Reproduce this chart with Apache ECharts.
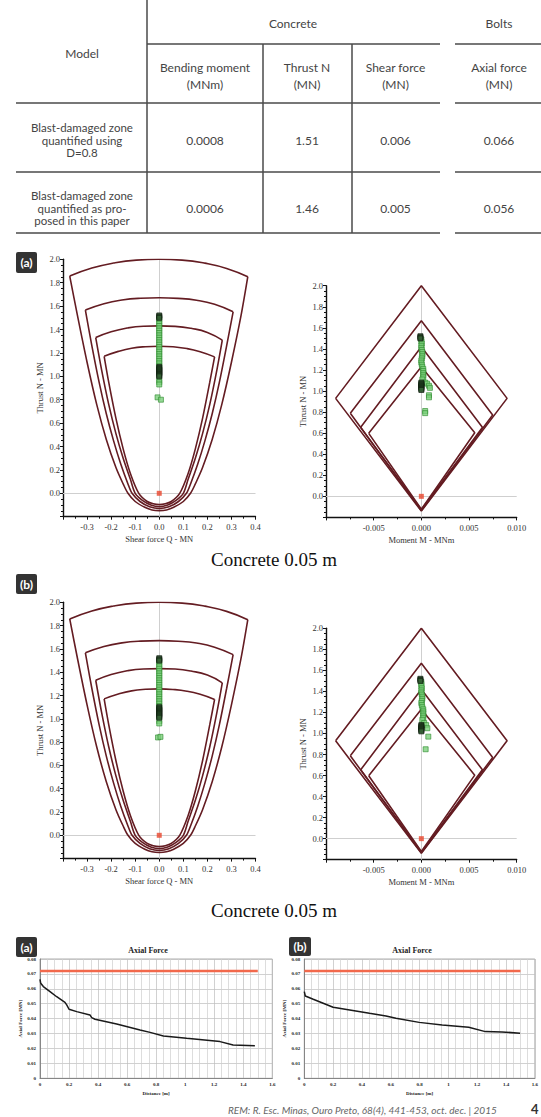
<!DOCTYPE html>
<html><head><meta charset="utf-8">
<script src="https://cdn.jsdelivr.net/npm/echarts@6/dist/echarts.min.js"></script>
<style>html,body{margin:0;padding:0;background:#fff;}#c{width:541px;height:1117px;}</style>
</head><body><div id="c"></div>
<script>
// ---------- TABLE DATA ----------
const tableGroups = ['Concrete', 'Bolts'];
const tableColumns = ['Bending moment\n(MNm)', 'Thrust N\n(MN)', 'Shear force\n(MN)', 'Axial force\n(MN)'];
const tableModels = ['Blast-damaged zone\nquantified using\nD=0.8', 'Blast-damaged zone\nquantified as pro-\nposed in this paper'];
const tableRow1 = ['0.0008', '1.51', '0.006', '0.066'];
const tableRow2 = ['0.0006', '1.46', '0.005', '0.056'];

// ---------- SHEAR (Q-N) ENVELOPES, factor of safety levels ----------
const levels = ['1', '1.2', '1.4', '1.6'];
const shearArc1 = [[-0.372,1.857],[-0.28,1.925],[-0.19,1.968],[-0.095,1.993],[0,2.0],[0.095,1.993],[0.19,1.967],[0.28,1.922],[0.368,1.851]];
const shearArc12 = [[-0.307,1.566],[-0.23,1.62],[-0.155,1.652],[-0.078,1.667],[0,1.671],[0.078,1.666],[0.155,1.65],[0.23,1.615],[0.307,1.551]];
const shearArc14 = [[-0.264,1.331],[-0.2,1.38],[-0.132,1.413],[-0.066,1.428],[0,1.431],[0.066,1.427],[0.132,1.41],[0.2,1.375],[0.262,1.309]];
const shearArc16 = [[-0.229,1.171],[-0.17,1.213],[-0.115,1.24],[-0.057,1.253],[0,1.257],[0.057,1.252],[0.115,1.237],[0.17,1.21],[0.23,1.166]];
const shearU1 = [[-0.372,1.857],[-0.34,1.52],[-0.30,1.12],[-0.26,0.76],[-0.22,0.46],[-0.18,0.22],[-0.15,0.08],[-0.13,0.0],[-0.10,-0.07],[-0.06,-0.12],[-0.03,-0.142],[0,-0.148],[0.03,-0.142],[0.06,-0.12],[0.10,-0.07],[0.13,0.0],[0.15,0.08],[0.18,0.22],[0.22,0.46],[0.26,0.76],[0.30,1.12],[0.34,1.52],[0.368,1.851]];
const shearU12 = [[-0.307,1.566],[-0.28,1.26],[-0.25,0.95],[-0.22,0.68],[-0.19,0.45],[-0.16,0.25],[-0.13,0.08],[-0.113,0.0],[-0.08,-0.07],[-0.04,-0.115],[0,-0.13],[0.04,-0.115],[0.08,-0.07],[0.113,0.0],[0.13,0.08],[0.16,0.25],[0.19,0.45],[0.22,0.68],[0.25,0.95],[0.28,1.26],[0.307,1.551]];
const shearU14 = [[-0.264,1.331],[-0.24,1.06],[-0.21,0.76],[-0.18,0.51],[-0.15,0.30],[-0.12,0.12],[-0.10,0.0],[-0.07,-0.06],[-0.035,-0.10],[0,-0.115],[0.035,-0.10],[0.07,-0.06],[0.10,0.0],[0.12,0.12],[0.15,0.30],[0.18,0.51],[0.21,0.76],[0.24,1.06],[0.262,1.309]];
const shearU16 = [[-0.229,1.171],[-0.21,0.95],[-0.18,0.64],[-0.15,0.38],[-0.12,0.17],[-0.085,0.0],[-0.05,-0.07],[-0.025,-0.09],[0,-0.097],[0.025,-0.09],[0.05,-0.07],[0.085,0.0],[0.12,0.17],[0.15,0.38],[0.18,0.64],[0.21,0.95],[0.23,1.166]];
const shearLabelPos = [[0.165,2.023],[0.121,1.694],[0.1,1.466],[0.082,1.286]];

// ---------- MOMENT (M-N) ENVELOPES ----------
const momentDiamond1 = [[-0.00899,0.93],[0,2.0],[0.00899,0.93],[0,-0.14],[-0.00899,0.93]];
const momentDiamond12 = [[-0.00745,0.788],[0,1.668],[0.00748,0.772],[0,-0.134],[-0.00745,0.788]];
const momentDiamond14 = [[-0.00636,0.655],[0,1.421],[0.0064,0.655],[0,-0.128],[-0.00636,0.655]];
const momentDiamond16 = [[-0.00552,0.598],[0,1.231],[0.0056,0.604],[0,-0.122],[-0.00552,0.598]];
const momentLabelPos = [[0.00388,1.532],[0.003,1.288],[0.0023,1.111],[0.00196,0.978]];

// ---------- LINER RESULTS (points) ----------
const shearPtsA = [[0,1.49],[0,1.47],[0,1.45],[0,1.43],[0,1.41],[0,1.39],[0,1.37],[0,1.35],[0,1.33],[0,1.31],[0,1.29],[0,1.27],[0,1.25],[0,1.23],[0,1.21],[0,1.19],[0,1.17],[0,1.15],[0,1.13],[0,1.11],[0,1.09],[0,0.97],[0,0.95],[0,0.93],[-0.007,0.82],[0.007,0.80]];
const shearDarkA = [[0,1.52],[0,1.51],[0,1.50],[0,1.08],[0,1.07],[0,1.06],[0,1.05],[0,1.04],[0,1.03],[0,1.02],[0,1.01],[0,1.0]];
const momentPtsA = [[0,1.49],[0,1.47],[0.00005,1.45],[0,1.43],[0,1.41],[0.00005,1.39],[0.0001,1.37],[0.0001,1.35],[0.0001,1.33],[0.00005,1.31],[0,1.29],[0,1.27],[0.00005,1.25],[0.0001,1.23],[0.0002,1.21],[0.0002,1.19],[0.0002,1.17],[0.0002,1.15],[0.0002,1.13],[0.0001,1.11],[0.0004,1.08],[0.0006,1.07],[0.0008,1.05],[0.0009,1.03],[0.0008,0.96],[0.0008,0.94],[0.0004,0.81],[0.0004,0.79]];
const momentDarkA = [[-0.0001,1.52],[-0.0001,1.51],[-0.0001,1.50],[0,1.08],[0,1.07],[0,1.06],[0,1.05],[0,1.04],[0,1.03],[0,1.02],[0,1.01]];
const shearPtsB = [[0,1.49],[0,1.47],[0,1.45],[0,1.43],[0,1.41],[0,1.39],[0,1.37],[0,1.35],[0,1.33],[0,1.31],[0,1.29],[0,1.27],[0,1.25],[0,1.23],[0,1.21],[0,1.19],[0,1.17],[0,1.15],[0,1.13],[0,1.11],[0,0.98],[0,0.96],[-0.005,0.84],[0.005,0.845]];
const shearDarkB = [[0,1.52],[0,1.51],[0,1.50],[0,1.10],[0,1.09],[0,1.08],[0,1.07],[0,1.06],[0,1.05],[0,1.04],[0,1.03],[0,1.02],[0,1.01]];
const momentPtsB = [[0,1.49],[0,1.47],[0,1.45],[0.00005,1.43],[0,1.41],[0,1.39],[0.00005,1.37],[0.0001,1.35],[0.0001,1.33],[0.00005,1.31],[0,1.29],[0.00005,1.27],[0.0001,1.25],[0.0002,1.23],[0.0002,1.21],[0.0002,1.19],[0.0002,1.17],[0.0002,1.15],[0.0001,1.13],[0.0003,1.10],[0.0005,1.08],[0.00063,1.05],[0.00073,0.97],[0.00045,0.85]];
const momentDarkB = [[-0.0001,1.52],[-0.0001,1.51],[-0.0001,1.50],[0,1.08],[0,1.07],[0,1.06],[0,1.05],[0,1.04],[0,1.03],[0,1.02]];
const originPt = [[0,0]];

// ---------- BOLT AXIAL FORCE ----------
const axialA = [[0,0.0664],[0.005,0.0637],[0.023,0.0615],[0.069,0.0581],[0.115,0.0547],[0.172,0.0509],[0.184,0.0492],[0.2,0.0463],[0.253,0.0447],[0.344,0.0425],[0.356,0.0407],[0.379,0.0396],[0.528,0.0364],[0.689,0.0324],[0.758,0.0308],[0.85,0.0284],[1.01,0.0268],[1.24,0.0246],[1.33,0.0223],[1.48,0.0219]];
const axialB = [[0,0.0581],[0.007,0.0552],[0.062,0.053],[0.131,0.0503],[0.2,0.0476],[0.315,0.0458],[0.452,0.0436],[0.567,0.0418],[0.636,0.0402],[0.797,0.0375],[0.957,0.0358],[1.141,0.0342],[1.256,0.0313],[1.371,0.0311],[1.497,0.0302]];
const tensileCapacity = 0.072;
const tensileExtent = [0, 1.5];
const tensileText = 'Tensile capacity 0.072 MN';

// ---------- STYLE ----------
const SERIF = '"Liberation Serif","DejaVu Serif",serif';
const SANS = 'Lato,"Open Sans",sans-serif';
const CURVE = '#641c22';
const TBL = '#4a4a4a';

const chart = echarts.init(document.getElementById('c'), null, {renderer: 'svg'});

const grids = [
  {left: 63, top: 259.3, width: 192.5, height: 257.4},
  {left: 326, top: 285.7, width: 190.7, height: 231.7},
  {left: 63, top: 602.3, width: 192.5, height: 256.3},
  {left: 326, top: 628.3, width: 190.7, height: 231.4},
  {left: 40, top: 959, width: 232.3, height: 119.3, show: true, borderColor: '#999', borderWidth: 0.8},
  {left: 304.3, top: 959, width: 232, height: 119.3, show: true, borderColor: '#999', borderWidth: 0.8}
];

function fmt(v, d) { if (Math.abs(v) < 1e-9) v = 0; return v.toFixed(d); }
const axLine = {onZero: false, lineStyle: {color: '#111', width: 1.4}};
const tick = {length: 3, lineStyle: {color: '#111', width: 1}};
const nameStyle = {fontFamily: SERIF, fontSize: 8.5, color: '#333'};

function yThrust(gi) {
  return {gridIndex: gi, type: 'value', min: -0.2, max: 2.0, interval: 0.2,
    axisLine: axLine, axisTick: tick, minorTick: {show: true, splitNumber: 4, length: 2, lineStyle: {color: '#111'}},
    splitLine: {show: false},
    axisLabel: {fontFamily: SERIF, fontSize: 8.5, color: '#333', margin: 3, formatter: v => v < -0.05 ? '' : fmt(v, 1)},
    name: 'Thrust N - MN', nameLocation: 'middle', nameGap: 19, nameTextStyle: nameStyle};
}
function xShear(gi) {
  return {gridIndex: gi, type: 'value', min: -0.4, max: 0.4, interval: 0.1,
    axisLine: axLine, axisTick: tick, minorTick: {show: true, splitNumber: 2, length: 2, lineStyle: {color: '#111'}},
    splitLine: {show: false},
    axisLabel: {fontFamily: SERIF, fontSize: 8.5, color: '#333', margin: 6, formatter: v => v < -0.35 ? '' : fmt(v, 1)},
    name: 'Shear force Q - MN', nameLocation: 'middle', nameGap: 18, nameTextStyle: nameStyle};
}
function xMoment(gi) {
  return {gridIndex: gi, type: 'value', min: -0.01, max: 0.01, interval: 0.005,
    axisLine: axLine, axisTick: tick, minorTick: {show: true, splitNumber: 2, length: 2, lineStyle: {color: '#111'}},
    splitLine: {show: false},
    axisLabel: {fontFamily: SERIF, fontSize: 8.5, color: '#333', margin: 6, formatter: v => v < -0.0075 ? '' : fmt(v, 3)},
    name: 'Moment M - MNm', nameLocation: 'middle', nameGap: 18, nameTextStyle: nameStyle};
}
const tinyLbl = {fontFamily: SERIF, fontSize: 5, color: '#222', fontWeight: 'bold'};
function xDist(gi) {
  return {gridIndex: gi, type: 'value', min: 0, max: 1.6, interval: 0.2,
    axisLine: {onZero: false, lineStyle: {color: '#777', width: 0.8}}, axisTick: {show: false},
    splitLine: {show: true, lineStyle: {color: '#bdbdbd', width: 0.7}},
    minorTick: {show: false, splitNumber: 4}, minorSplitLine: {show: true, lineStyle: {color: '#cfcfcf', width: 0.7}},
    axisLabel: Object.assign({margin: 4, formatter: v => (Math.abs(v - Math.round(v)) < 1e-9 ? String(Math.round(v)) : fmt(v, 1))}, tinyLbl),
    name: 'Distance [m]', nameLocation: 'middle', nameGap: 13, nameTextStyle: tinyLbl};
}
function yAxial(gi) {
  return {gridIndex: gi, type: 'value', min: 0, max: 0.08, interval: 0.01,
    axisLine: {onZero: false, lineStyle: {color: '#777', width: 0.8}}, axisTick: {show: false},
    splitLine: {show: true, lineStyle: {color: '#bdbdbd', width: 0.7}},
    axisLabel: Object.assign({margin: 4, formatter: v => (v < 1e-9 ? '0' : fmt(v, 2))}, tinyLbl),
    name: 'Axial Force [MN]', nameLocation: 'middle', nameGap: 17, nameTextStyle: tinyLbl};
}

const shearArcs = [shearArc1, shearArc12, shearArc14, shearArc16];
const shearUs = [shearU1, shearU12, shearU14, shearU16];
const diamonds = [momentDiamond1, momentDiamond12, momentDiamond14, momentDiamond16];

function curveLine(i, data, smooth) {
  return {type: 'line', xAxisIndex: i, yAxisIndex: i, data: data, smooth: smooth, symbol: 'none', silent: true,
    lineStyle: {color: CURVE, width: 1.6}, z: 3};
}
function labelSeries(i, pos) {
  return {type: 'scatter', xAxisIndex: i, yAxisIndex: i, symbolSize: 1, itemStyle: {opacity: 0}, silent: true,
    data: pos.map((p, k) => ({value: p, name: levels[k]})),
    label: {show: true, position: 'inside', formatter: '{b}', fontFamily: SERIF, fontSize: 8.5, color: '#7a2630'}, z: 4};
}
function pointSeries(i, pts, dark) {
  return {type: 'scatter', xAxisIndex: i, yAxisIndex: i, data: pts, symbol: 'rect', symbolSize: 5, silent: true,
    itemStyle: dark ? {color: '#335f33', borderColor: '#0d1a0d', borderWidth: 0.9} : {color: '#7ccf7c', borderColor: '#2e8a2e', borderWidth: 0.8}, z: dark ? 6 : 5};
}
function originSeries(i) {
  return {type: 'scatter', xAxisIndex: i, yAxisIndex: i, data: originPt, symbol: 'rect', symbolSize: 5, silent: true,
    itemStyle: {color: '#e8452c'}, z: 7,
    markLine: {silent: true, symbol: ['none', 'none'], label: {show: false}, lineStyle: {color: '#cfcfcf', width: 1, type: 'solid'},
      data: [{xAxis: 0}, {yAxis: 0}], z: 1}};
}

const series = [];
[0, 2].forEach(i => {
  shearArcs.forEach((a, k) => { series.push(curveLine(i, a, true)); series.push(curveLine(i, shearUs[k], 0.3)); });
  series.push(labelSeries(i, shearLabelPos));
  series.push(originSeries(i));
});
[1, 3].forEach(i => {
  diamonds.forEach(d => series.push(curveLine(i, d, false)));
  series.push(labelSeries(i, momentLabelPos));
  series.push(originSeries(i));
});
series.push(pointSeries(0, shearPtsA, false), pointSeries(0, shearDarkA, true));
series.push(pointSeries(1, momentPtsA, false), pointSeries(1, momentDarkA, true));
series.push(pointSeries(2, shearPtsB, false), pointSeries(2, shearDarkB, true));
series.push(pointSeries(3, momentPtsB, false), pointSeries(3, momentDarkB, true));

[[4, axialA], [5, axialB]].forEach(([i, d]) => {
  series.push({type: 'line', xAxisIndex: i, yAxisIndex: i, symbol: 'none', silent: true,
    data: tensileExtent.map(x => [x, tensileCapacity]), lineStyle: {color: '#f2694c', width: 2.6}, z: 3});
  series.push({type: 'line', xAxisIndex: i, yAxisIndex: i, symbol: 'none', silent: true, data: d,
    lineStyle: {color: '#1a1a1a', width: 1.5}, z: 4});
  series.push({type: 'scatter', xAxisIndex: i, yAxisIndex: i, symbolSize: 1, itemStyle: {opacity: 0}, silent: true,
    data: [{value: [0.1, 0.0753], name: tensileText}],
    label: {show: true, position: 'right', distance: 0, formatter: '{b}', fontFamily: SERIF, fontSize: 4.2, fontWeight: 'bold', color: '#222'}});
});

// ---------- GRAPHIC (table, panel tags, titles, footer) ----------
const g = [];
function ln(x1, y1, x2, y2) { g.push({type: 'line', shape: {x1, y1, x2, y2}, style: {stroke: TBL, lineWidth: 1.5}, silent: true}); }
function tx(x, y, text, opt) {
  g.push({type: 'text', x, y, silent: true, style: Object.assign({text, fill: '#444', fontFamily: SANS, fontSize: 11.5, textAlign: 'center', textVerticalAlign: 'middle', lineHeight: 12.5}, opt || {})});
}
ln(147, 0, 147, 233);
ln(263, 44, 263, 233); ln(352, 44, 352, 233);
[44].forEach(y => { ln(147, y, 440, y); ln(455, y, 541, y); });
[103, 172, 233].forEach(y => { ln(16, y, 440, y); ln(455, y, 541, y); });
tx(293, 23, tableGroups[0], {fontSize: 12}); tx(499, 23, tableGroups[1], {fontSize: 12});
tx(82, 53, 'Model', {fontSize: 12});
const colX = [205, 307, 395.5, 499];
tableColumns.forEach((c, k) => tx(colX[k], 75.5, c, {fontSize: 12, lineHeight: 17}));
tx(82, 140, tableModels[0]); tx(82, 208, tableModels[1]);
tableRow1.forEach((v, k) => tx(colX[k], 140, v, {fontSize: 12}));
tableRow2.forEach((v, k) => tx(colX[k], 208, v, {fontSize: 12}));

function tag(x, y, w, h, t) {
  g.push({type: 'rect', shape: {x, y, width: w, height: h, r: 2}, style: {fill: '#333'}, silent: true});
  g.push({type: 'text', x: x + w / 2, y: y + h / 2, silent: true, style: {text: t, fill: '#fff', fontFamily: SANS, fontWeight: 'bold', fontSize: 12, textAlign: 'center', textVerticalAlign: 'middle'}});
}
tag(16, 252, 21, 21, '(a)');
tag(16, 574, 21, 20, '(b)');
tag(16, 937, 21, 20, '(a)');
tag(289, 937, 22, 19, '(b)');

tx(274, 559, 'Concrete 0.05 m', {fontFamily: SERIF, fontSize: 19, fill: '#111', lineHeight: 20});
tx(274, 910, 'Concrete 0.05 m', {fontFamily: SERIF, fontSize: 19, fill: '#111', lineHeight: 20});
tx(148, 950, 'Axial Force', {fontFamily: SERIF, fontSize: 8, fontWeight: 'bold', fill: '#222'});
tx(412, 950, 'Axial Force', {fontFamily: SERIF, fontSize: 8, fontWeight: 'bold', fill: '#222'});
tx(228, 1110, 'REM: R. Esc. Minas, Ouro Preto, 68(4), 441-453, oct. dec. | 2015', {textAlign: 'left', fontStyle: 'italic', fontSize: 10, fill: '#666', lineHeight: 11});
tx(531, 1109, '4', {textAlign: 'left', fontWeight: 'bold', fontSize: 13, fill: '#333', lineHeight: 13});

chart.setOption({
  animation: false,
  backgroundColor: '#fff',
  grid: grids,
  xAxis: [xShear(0), xMoment(1), xShear(2), xMoment(3), xDist(4), xDist(5)],
  yAxis: [yThrust(0), yThrust(1), yThrust(2), yThrust(3), yAxial(4), yAxial(5)],
  series: series,
  graphic: g
});
</script></body></html>
